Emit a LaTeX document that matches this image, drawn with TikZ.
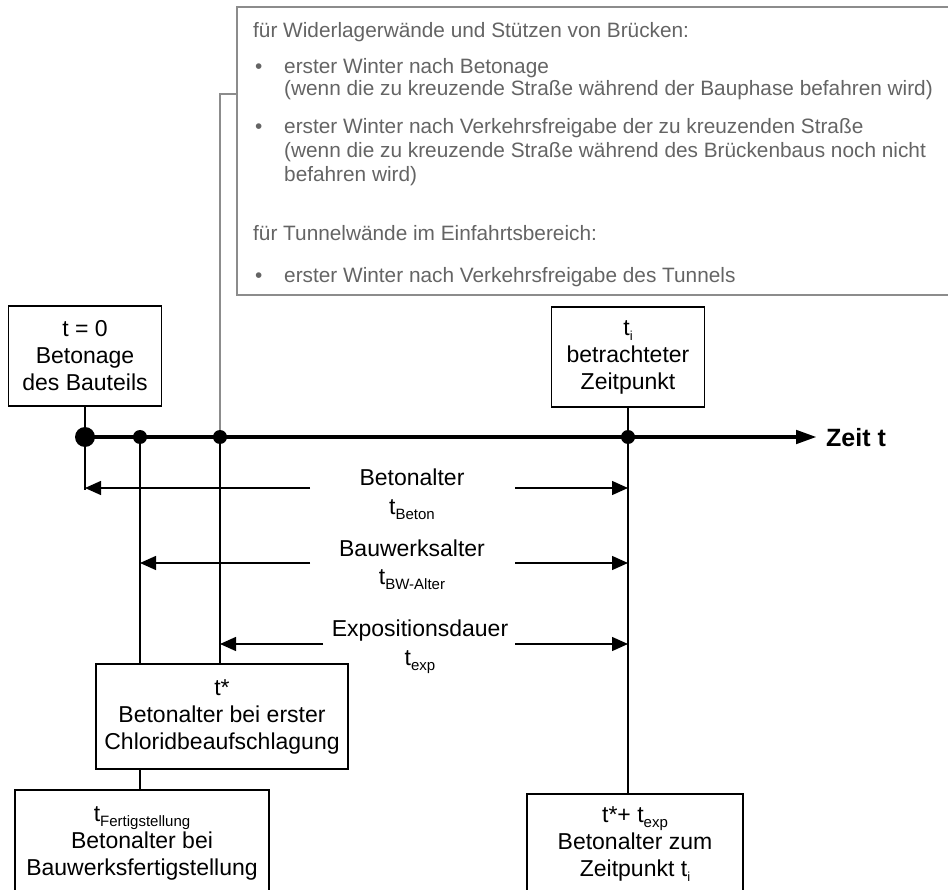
\documentclass[tikz,border=0pt]{standalone}
\usepackage{fontspec}
\setmainfont{Liberation Sans}
\usetikzlibrary{arrows.meta}
\definecolor{txtgray}{RGB}{100,100,100}
\definecolor{lngray}{RGB}{140,140,140}
\newcommand\lsub[2][15]{\raisebox{-5pt}{\fontsize{#1}{#1}\selectfont #2}}
\tikzset{
  blackbox/.style={draw=black, line width=1.3pt, align=center, inner sep=0pt,
    font=\fontsize{23}{27}\selectfont},
  graytxt/.style={anchor=west, text=txtgray, inner sep=0pt, text height=15pt, text depth=4pt,
    font=\fontsize{20.8}{23}\selectfont},
  lbl/.style={inner sep=0pt, font=\fontsize{23}{27}\selectfont},
  conn/.style={line width=1.3pt},
  grayconn/.style={draw=lngray, line width=1.1pt},
  dimarrow/.style={line width=1.4pt, -{Triangle[length=16pt,width=14pt]}},
  dotbig/.style={circle, fill=black, minimum size=20pt, inner sep=0pt},
  dotsmall/.style={circle, fill=black, minimum size=14pt, inner sep=0pt}
}
\begin{document}
\begin{tikzpicture}[x=1pt,y=-1pt]
\useasboundingbox (0,0) rectangle (948,890);
\clip (0,0) rectangle (948,890);

% gray info box
\node[draw=lngray, line width=1.3pt, minimum width=730pt, minimum height=288pt, inner sep=0pt] (gbox) at (602,151) {};
\node[graytxt] (g1) at (253,32) {für Widerlagerwände und Stützen von Brücken:};
\node[graytxt] (gb1) at (255,68) {•};
\node[graytxt] (g2) at (284,68) {erster Winter nach Betonage};
\node[graytxt] (g3) at (284,90) {(wenn die zu kreuzende Straße während der Bauphase befahren wird)};
\node[graytxt] (gb2) at (255,128) {•};
\node[graytxt] (g4) at (284,128) {erster Winter nach Verkehrsfreigabe der zu kreuzenden Straße};
\node[graytxt] (g5) at (284,152) {(wenn die zu kreuzende Straße während des Brückenbaus noch nicht};
\node[graytxt] (g6) at (284,176) {befahren wird)};
\node[graytxt] (g7) at (253,235) {für Tunnelwände im Einfahrtsbereich:};
\node[graytxt] (gb3) at (255,277) {•};
\node[graytxt] (g8) at (284,277) {erster Winter nach Verkehrsfreigabe des Tunnels};

% boxes
\node[blackbox, minimum width=153pt, minimum height=100pt] (b0) at (85,356) {t = 0\\Betonage\\des Bauteils};
\node[blackbox, minimum width=153pt, minimum height=100pt] (bti) at (628,357) {t\lsub[13]{i}\\betrachteter\\Zeitpunkt};
\node[blackbox, minimum width=252pt, minimum height=105pt] (bstar) at (222,716.5) {t*\\Betonalter bei erster\\Chloridbeaufschlagung};
\node[blackbox, minimum width=254pt, minimum height=106pt] (bfert) at (142,843) {t\lsub{Fertigstellung}\\Betonalter bei\\Bauwerksfertigstellung};
\node[blackbox, minimum width=216pt, minimum height=100pt] (bexp) at (635,844) {t*+ t\lsub{exp}\\Betonalter zum\\Zeitpunkt t\lsub[13]{i}};

% dots on timeline
\node[dotbig] (d0) at (85,437) {};
\node[dotsmall] (d1) at (140,437) {};
\node[dotsmall] (d2) at (220,437) {};
\node[dotsmall] (d3) at (628,437) {};
\coordinate (tend) at (817,437);
\node[anchor=west, inner sep=0pt, font=\bfseries\fontsize{25}{28}\selectfont] (zeit) at (826,438) {Zeit t};

% timeline
\draw[line width=4.5pt, -{Triangle[length=21pt,width=13pt]}] (d0.center) -- (tend);

% connectors
\coordinate (e0) at (85,490);
\draw[conn] (b0.south) -- (d0.center) -- (e0);
\draw[conn] (d1.center) -- (bstar.north -| d1);
\draw[conn] (d2.center) -- (bstar.north -| d2);
\draw[conn] (bstar.south -| d1) -- (bfert.north -| d1);
\draw[conn] (bti.south) -- (d3.center) -- (bexp.north -| d3);
\coordinate (gc) at (220,94);
\draw[grayconn] (gbox.west |- gc) -- (gc) -- (d2.north);

% dimension arrows
\coordinate (a1l) at (310,488); \coordinate (a1r) at (515,488);
\coordinate (a2l) at (310,563); \coordinate (a2r) at (515,563);
\coordinate (a3l) at (323,644); \coordinate (a3r) at (515,644);
\draw[dimarrow] (a1l) -- (a1l -| d0);
\draw[dimarrow] (a1r) -- (a1r -| d3);
\draw[dimarrow] (a2l) -- (a2l -| d1);
\draw[dimarrow] (a2r) -- (a2r -| d3);
\draw[dimarrow] (a3l) -- (a3l -| d2);
\draw[dimarrow] (a3r) -- (a3r -| d3);

% labels
\node[lbl] (l1) at (412,477) {Betonalter};
\node[lbl] (l1s) at (412,510) {t\lsub{Beton}};
\node[lbl] (l2) at (412,548) {Bauwerksalter};
\node[lbl] (l2s) at (412,580) {t\lsub{BW-Alter}};
\node[lbl] (l3) at (420,631) {Expositionsdauer};
\node[lbl] (l3s) at (420,662) {t\lsub{exp}};
\end{tikzpicture}
\end{document}
